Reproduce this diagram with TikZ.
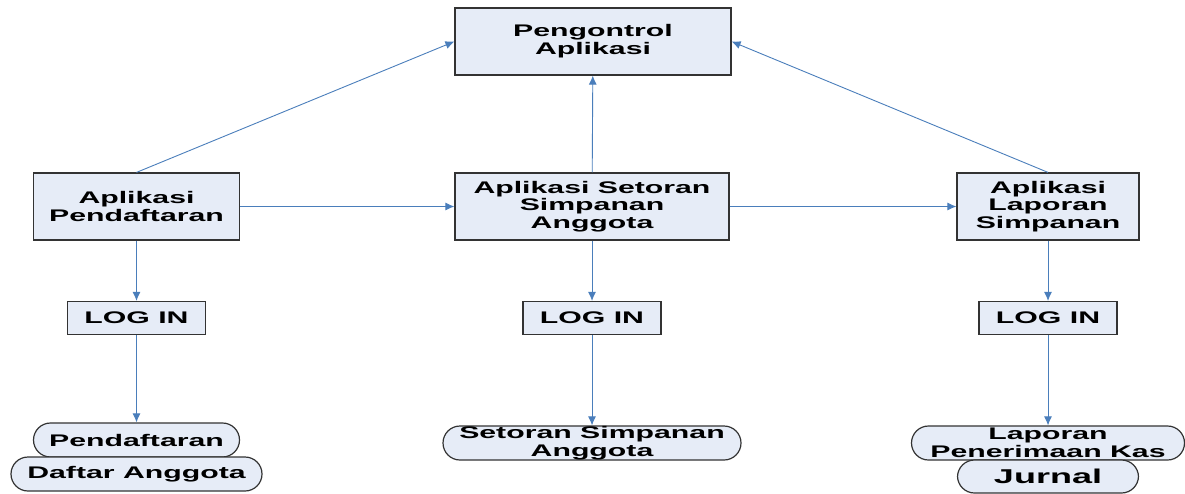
\documentclass[tikz,border=0pt]{standalone}
\usepackage{fontspec}
\newfontfamily\blokfont[FakeStretch=1.8]{Liberation Sans Bold}
\usetikzlibrary{arrows.meta}
\definecolor{isi}{HTML}{E6ECF7}
\definecolor{garis}{HTML}{4A7EBB}
\definecolor{tepi}{HTML}{333333}
\tikzset{
  kotak/.style={draw=tepi, line width=1.2pt, fill=isi, align=center, inner sep=0pt,
    font=\blokfont\fontsize{16.8}{17.8}\selectfont},
  oval/.style={kotak, rounded corners=17pt, minimum height=34pt},
  panah/.style={draw=garis, line width=0.9pt, -{Latex[length=9pt,width=8pt]}}
}
\begin{document}
\begin{tikzpicture}[x=1pt,y=-1pt]
\useasboundingbox (0,0) rectangle (1185,493);

% nodes
\node[kotak, minimum width=276pt, minimum height=67pt] (kendali) at (593,41.5) {Pengontrol\\Aplikasi};
\node[kotak, minimum width=206pt, minimum height=67pt] (daftar) at (136.5,206.5) {Aplikasi\\Pendaftaran};
\node[kotak, minimum width=274pt, minimum height=67pt] (setoran) [right of=daftar, node distance=455.5pt] {Aplikasi Setoran\\Simpanan\\Anggota};
\node[kotak, minimum width=182pt, minimum height=67pt] (laporan) [right of=setoran, node distance=456pt] {Aplikasi\\Laporan\\Simpanan};
\node[kotak, minimum width=138pt, minimum height=33pt] (loginA) [below of=daftar, node distance=111.5pt] {LOG IN};
\node[kotak, minimum width=138pt, minimum height=33pt] (loginB) [below of=setoran, node distance=111.5pt] {LOG IN};
\node[kotak, minimum width=138pt, minimum height=33pt] (loginC) [below of=laporan, node distance=111.5pt] {LOG IN};
\node[oval, minimum width=206pt] (pendaftaran) [below of=loginA, node distance=122pt] {Pendaftaran};
\node[oval, minimum width=251pt] (anggota) [below of=pendaftaran, node distance=34pt] {Daftar Anggota};
\node[oval, minimum width=298pt] (simpanan) [below of=loginB, node distance=125pt] {Setoran Simpanan\\Anggota};
\node[oval, minimum width=273pt] (kas) [below of=loginC, node distance=125pt] {Laporan\\Penerimaan Kas};
\node[oval, minimum width=181pt, minimum height=33pt, font=\blokfont\fontsize{20}{22}\selectfont] (jurnal) [below of=kas, node distance=33.5pt] {Jurnal};

% arrows
\draw[panah] (daftar.north) -- (kendali.west);
\draw[panah] (setoran) -- (kendali);
\draw[panah] (laporan.north) -- (kendali.east);
\draw[panah] (daftar) -- (setoran);
\draw[panah] (setoran) -- (laporan);
\draw[panah] (daftar) -- (loginA);
\draw[panah] (setoran) -- (loginB);
\draw[panah] (laporan) -- (loginC);
\draw[panah] (loginA) -- (pendaftaran);
\draw[panah] (loginB) -- (simpanan);
\draw[panah] (loginC) -- (kas);
\end{tikzpicture}
\end{document}
